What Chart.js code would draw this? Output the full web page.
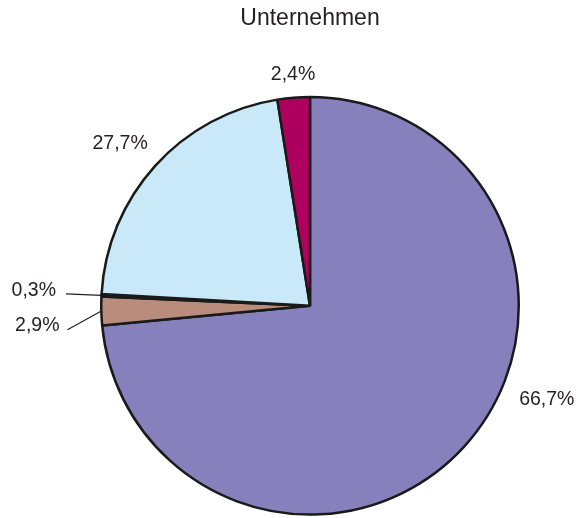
<!DOCTYPE html>
<html>
<head>
<meta charset="utf-8">
<script src="https://cdn.jsdelivr.net/npm/chart.js@4"></script>
<style>
  body { margin: 0; background: #fff; }
  #wrap { width: 581px; height: 518px; position: relative; }
</style>
</head>
<body>
<div id="wrap"><canvas id="pie"></canvas></div>
<script>
// slice shares as drawn in the picture (start at 12 o'clock, clockwise)
const shares = [73.5, 2.2, 0.2, 21.6, 2.5];
// printed labels of the slices
const sliceLabels = ["66,7%", "2,9%", "0,3%", "27,7%", "2,4%"];
const sliceColors = ["#8680bd", "#ba8c7c", "#3a3a3a", "#c9e9f8", "#ae005e"];

const textFont = '"Liberation Sans", Arial, Helvetica, sans-serif';

// where each label sits: angle from top (deg, clockwise), distance in radii
const placement = [
  { angle: 111.6, dist: 1.22 },
  { angle: 265.8, dist: 1.31, leader: true, dx: 8, dy: 4 },
  { angle: 273.1, dist: 1.325, leader: true, dx: 10, dy: 3 },
  { angle: 310.5, dist: 1.196 },
  { angle: 355.8, dist: 1.11 },
];

const labelPlugin = {
  id: "sliceLabels",
  afterDatasetsDraw(chart) {
    const ctx = chart.ctx;
    const arcs = chart.getDatasetMeta(0).data;
    ctx.save();
    ctx.font = "19.5px " + textFont;
    ctx.fillStyle = "#231f20";
    ctx.strokeStyle = "#231f20";
    ctx.lineWidth = 1.2;
    ctx.textAlign = "center";
    ctx.textBaseline = "middle";
    arcs.forEach((arc, i) => {
      const p = placement[i];
      const a = (p.angle * Math.PI) / 180;
      const r = arc.outerRadius;
      const tx = arc.x + Math.sin(a) * r * p.dist;
      const ty = arc.y - Math.cos(a) * r * p.dist;
      ctx.fillText(sliceLabels[i], tx, ty);
      if (p.leader) {
        const mid = (arc.startAngle + arc.endAngle) / 2;
        const ex = arc.x + Math.cos(mid) * r;
        const ey = arc.y + Math.sin(mid) * r;
        const w = ctx.measureText(sliceLabels[i]).width;
        ctx.beginPath();
        ctx.moveTo(tx + w / 2 + p.dx, ty + p.dy);
        ctx.lineTo(ex, ey);
        ctx.stroke();
      }
    });
    ctx.restore();
  },
};

new Chart(document.getElementById("pie"), {
  type: "pie",
  data: {
    labels: sliceLabels,
    datasets: [
      {
        data: shares,
        backgroundColor: sliceColors,
        borderColor: "#1a1a1a",
        borderWidth: 2.5,
      },
    ],
  },
  options: {
    responsive: true,
    maintainAspectRatio: false,
    animation: false,
    layout: { padding: { left: 100, right: 61, top: 0, bottom: 2 } },
    plugins: {
      legend: { display: false },
      tooltip: { enabled: false },
      title: {
        display: true,
        text: "Unternehmen",
        color: "#231f20",
        font: { family: textFont, size: 23, weight: "normal" },
        padding: { top: 5, bottom: 63 },
      },
    },
  },
  plugins: [labelPlugin],
});
</script>
</body>
</html>
